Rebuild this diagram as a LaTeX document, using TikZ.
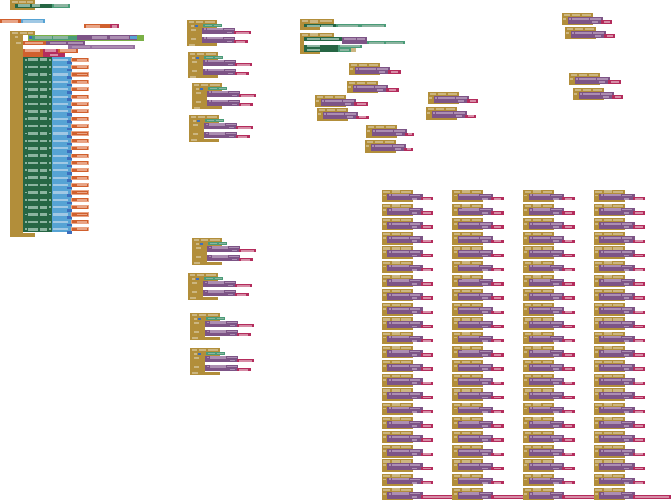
\documentclass[tikz,border=0pt]{standalone}
\definecolor{cGold}{RGB}{178,142,58}
\definecolor{cGoldL}{RGB}{204,182,128}
\definecolor{cPurp}{RGB}{125,84,134}
\definecolor{cPurpM}{RGB}{150,112,160}
\definecolor{cPurpL}{RGB}{172,142,178}
\definecolor{cMag}{RGB}{180,44,92}
\definecolor{cMagL}{RGB}{214,140,166}
\definecolor{cDG}{RGB}{38,102,68}
\definecolor{cLG}{RGB}{74,156,120}
\definecolor{cLGL}{RGB}{140,180,160}
\definecolor{cBlue}{RGB}{86,163,212}
\definecolor{cBlueL}{RGB}{160,200,228}
\definecolor{cBlueD}{RGB}{60,110,190}
\definecolor{cOr}{RGB}{208,96,46}
\definecolor{cOrL}{RGB}{232,164,134}
\definecolor{cLime}{RGB}{122,176,70}
\tikzset{
  pics/mini/.style={code={
    \fill[cGold] (0,0) rectangle (31,12.5);
    \fill[cGoldL] (1.5,1) rectangle (8,3.2);
    \fill[cGoldL] (10,0.7) rectangle (18,3.3);
    \fill[cGoldL] (19.5,1) rectangle (29,3.2);
    \fill[cGoldL] (1.3,5) rectangle (4.3,6.8);
    \fill[cPurp] (5.5,4) rectangle (41,10.8);
    \fill[cPurpL] (6.8,4.8) rectangle (9.2,6.8);
    \fill[cPurpL] (10,4.6) rectangle (27,6.9);
    \fill[cPurpL] (28,5) rectangle (38.5,6.6);
    \fill[cPurpL] (30,8.2) rectangle (35.5,10);
    \fill[cMag] (39,7.5) rectangle (#1,10.9);
    \fill[cMagL] (41.5,8.3) rectangle ({#1-2.5},10.1);
  }},
  pics/evt/.style={code={
    \fill[cGold] (0,0) rectangle (30,7.6);
    \fill[cGold] (0,0) rectangle (15,26.5);
    \fill[cGold] (0,23.5) rectangle (30,26.5);
    \fill[cGoldL] (1.5,1) rectangle (7,3.2);
    \fill[cGoldL] (8.5,0.7) rectangle (16,3.3);
    \fill[cGoldL] (17.5,1) rectangle (28,3.2);
    \fill[cGoldL] (3.5,4.6) rectangle (6.5,6.6);
    \fill[cBlueD] (8,4.6) rectangle (10.5,6.8);
    \fill[cLG] (16.3,4) rectangle (35.3,7);
    \fill[cLGL] (17.5,4.6) rectangle (25,6.4);
    \fill[cLGL] (26.5,4.6) rectangle (33.5,6.4);
    \fill[cGoldL] (3.5,9) rectangle (9,10.8);
    \fill[cPurp] (15,7.7) rectangle (48.3,14.3);
    \fill[cPurpL] (16.5,8.5) rectangle (19,10.3);
    \fill[cPurpL] (20,8.3) rectangle (36,10.5);
    \fill[cPurpL] (37,8.6) rectangle (47,10.2);
    \fill[cPurpL] (40,11.6) rectangle (45,13.4);
    \fill[cMag] (46.5,11) rectangle (64,14.4);
    \fill[cMagL] (49,11.7) rectangle (61.5,13.6);
    \fill[cGoldL] (3.5,18) rectangle (9,19.8);
    \fill[cPurp] (15,16.7) rectangle (48.3,23.3);
    \fill[cPurpL] (16.5,17.5) rectangle (19,19.3);
    \fill[cPurpL] (20,17.3) rectangle (36,19.5);
    \fill[cPurpL] (37,17.6) rectangle (47,19.2);
    \fill[cPurpL] (40,20.6) rectangle (45,22.4);
    \fill[cMag] (46.5,20) rectangle (60.5,23.4);
    \fill[cMagL] (49,20.7) rectangle (58,22.6);
    \fill[cGoldL] (1.5,24.2) rectangle (8,25.8);
  }}
}
\begin{document}
\begin{tikzpicture}[x=1pt,y=-1pt]
\useasboundingbox (0,0) rectangle (671,500);
\clip (0,0) rectangle (671,500);
\fill[white] (0,0) rectangle (671,500);

% ---- top-left small event
\fill[cGold] (10,0.5) rectangle (35,10);
\fill[cGoldL] (12,1.3) rectangle (18,3);
\fill[cGoldL] (19,1) rectangle (26,3.2);
\fill[cGoldL] (27,1.3) rectangle (33,3);
\fill[cDG] (15,3.8) rectangle (52,7.6);
\fill[cLGL] (18,4.5) rectangle (30,6.9);
\fill[cLGL] (31.5,4.5) rectangle (40,6.9);
\fill[cLG] (52,3.8) rectangle (70,7.6);
\fill[cLGL] (54,4.5) rectangle (68,6.9);

% ---- initialize global
\fill[cOr] (0,19.5) rectangle (21,23.5);
\fill[cOrL] (2,20.3) rectangle (18,22.7);
\fill[cBlue] (21,19.5) rectangle (45,23.5);
\fill[cBlueL] (23,20.3) rectangle (43,22.7);
\fill[cOr] (84,24.5) rectangle (110,28.5);
\fill[cOrL] (86,25.3) rectangle (100,27.7);
\fill[cMag] (110,24.5) rectangle (119,28.5);
\fill[cMagL] (112,25.3) rectangle (117,27.7);

% ---- big event block
\fill[cGold] (10,31) rectangle (35,35.3);
\fill[cGold] (10,31) rectangle (22.7,237);
\fill[cGold] (10,232.5) rectangle (35,237);
\fill[cGoldL] (12,31.8) rectangle (18,33.8);
\fill[cGoldL] (20,31.6) rectangle (27,34);
\fill[cGoldL] (28,31.8) rectangle (33,33.8);
\fill[cGoldL] (15,36.5) rectangle (18,38.5);
\fill[cGoldL] (15.5,42) rectangle (20.5,44);
\fill[cLime] (27.7,35) rectangle (144,40.7);
\fill[cBlueD] (28.5,36) rectangle (31.5,38.8);
\fill[cLG] (31.7,35.6) rectangle (76.7,39.8);
\fill[cLGL] (35,36.3) rectangle (51.7,38.8);
\fill[cLGL] (53.3,36.3) rectangle (68.3,38.8);
\fill[cPurp] (76.7,35.3) rectangle (137,40.4);
\fill[cPurpL] (91.7,36.5) rectangle (106.7,38.7);
\fill[cPurpL] (110,36.5) rectangle (129,38.7);
\fill[cBlue] (130,36) rectangle (136.5,39.3);

\fill[cOr] (22.7,41.3) rectangle (46,45.3);
\fill[cOrL] (25,42) rectangle (43,44.5);
\fill[cPurp] (46,41.3) rectangle (85,45.3);
\fill[cPurpL] (50,42) rectangle (66,44.5);
\fill[cPurpL] (68,42) rectangle (83,44.5);
\fill[cPurpM] (68,45.3) rectangle (135,49.3);
\fill[cPurpL] (72,46) rectangle (90,48.5);
\fill[cPurpL] (92,46) rectangle (133,48.5);

\fill[cOr] (22.7,48.7) rectangle (43,57);
\fill[cOrL] (25,49.5) rectangle (40,52);
\fill[cMag] (43,48.7) rectangle (65,57);
\fill[cMagL] (45,49.5) rectangle (56,52);
\fill[cOr] (58,48.7) rectangle (78,52.8);
\fill[cOrL] (60,49.5) rectangle (76,52);
\fill[cMagL] (50,53.7) rectangle (58,56.2);

\fill[cDG] (22.7,57) rectangle (51.7,231.7);
\fill[cBlue] (51.7,57) rectangle (71.7,231.7);
\foreach \n in {0,...,23}{
  \pgfmathsetmacro\yy{57.7+7.37*\n}
  \begin{scope}[shift={(0,\yy)}]
    \fill[cLGL] (24.5,1.2) rectangle (26.5,3);
    \fill[cLGL] (28,0.8) rectangle (38,3.4);
    \fill[cLGL] (39.5,0.8) rectangle (47,3.4);
    \fill[cLGL] (48.5,1.2) rectangle (50.5,3);
    \fill[cBlueL] (53,1) rectangle (68,3.2);
    \fill[cBlueD] (67,3.8) rectangle (71.7,6.4);
    \fill[cOrL] (71,0) rectangle (89,4.2);
    \fill[cOr] (72,0.6) rectangle (88.3,3.6);
    \fill[cOrL] (77,1.2) rectangle (87,3);
  \end{scope}
}

% ---- middle column events
\pic at (187,20) {evt};
\pic at (188,52) {evt};
\pic at (192,83) {evt};
\pic at (189,115) {evt};
\pic at (192,238) {evt};
\pic at (188,273) {evt};
\pic at (190,313) {evt};
\pic at (190,348) {evt};

% ---- top middle block A
\fill[cGold] (300,19.5) rectangle (334,24);
\fill[cGold] (300,19.5) rectangle (304,30);
\fill[cGold] (300,27.5) rectangle (320,30);
\fill[cGoldL] (302,20.3) rectangle (308,22.5);
\fill[cGoldL] (309.5,20) rectangle (318,22.8);
\fill[cGoldL] (319.5,20.3) rectangle (332,22.5);
\fill[cDG] (304,24) rectangle (336,27.4);
\fill[cLGL] (307,24.7) rectangle (320,26.8);
\fill[cLGL] (321,24.7) rectangle (333,26.8);
\fill[cLG] (336,24) rectangle (360,27.4);
\fill[cLGL] (338,24.7) rectangle (358,26.8);
\fill[cLG] (360,24) rectangle (386,27.4);
\fill[cLGL] (362,24.7) rectangle (384,26.8);

% ---- top middle block B
\fill[cGold] (300,32.8) rectangle (334,37.5);
\fill[cGold] (300,32.8) rectangle (304,54);
\fill[cGold] (300,51.5) rectangle (320,54);
\fill[cGoldL] (302,33.6) rectangle (308,35.8);
\fill[cGoldL] (309.5,33.3) rectangle (318,36.1);
\fill[cGoldL] (319.5,33.6) rectangle (332,35.8);
\fill[cDG] (304,37.5) rectangle (341.7,41.2);
\fill[cLGL] (307,38.2) rectangle (320,40.5);
\fill[cLGL] (321,38.2) rectangle (339,40.5);
\fill[cPurp] (341.7,37.5) rectangle (366.7,44.5);
\fill[cPurpL] (344,38.2) rectangle (356,40.5);
\fill[cPurpL] (357,38.2) rectangle (365,40.5);
\fill[cLG] (366.7,41) rectangle (405,44.5);
\fill[cLGL] (369,41.7) rectangle (384,43.8);
\fill[cLGL] (386,41.7) rectangle (403,43.8);
\fill[cDG] (304,44.6) rectangle (338,48.2);
\fill[cLGL] (307,45.3) rectangle (320,47.5);
\fill[cLG] (338,44.6) rectangle (362,48.2);
\fill[cLGL] (340,45.3) rectangle (360,47.5);
\fill[cDG] (304,48.2) rectangle (338,51.6);
\fill[cLGL] (307,48.9) rectangle (320,51);
\fill[cLG] (338,48.2) rectangle (351,51.6);
\fill[cLGL] (340,48.9) rectangle (349,51);
\fill[cGoldL] (351,48.2) rectangle (356,51.6);

% ---- scattered small events
\pic at (349,63) {mini=51.5};
\pic at (347,81) {mini=51.5};
\pic at (315,95) {mini=53};
\pic at (317,108) {mini=51.5};
\pic at (428,92) {mini=50};
\pic at (426,107) {mini=50};
\pic at (366,125) {mini=48};
\pic at (365,140) {mini=48};
\pic at (562,13) {mini=50};
\pic at (565,27) {mini=50};
\pic at (569,73) {mini=52};
\pic at (573,88) {mini=50};

% ---- grid of events
\foreach \c in {0,1,2,3}{
  \foreach \r in {0,...,20}{
    \pgfmathsetmacro\gx{381.7+70.7*\c}
    \pgfmathsetmacro\gy{189.5+14.2*\r}
    \pic at (\gx,\gy) {mini=51.5};
  }
  \pgfmathsetmacro\gx{381.7+70.7*\c}
  \pic at (\gx,{189.5+14.2*21}) {mini=78};
}
\end{tikzpicture}
\end{document}
